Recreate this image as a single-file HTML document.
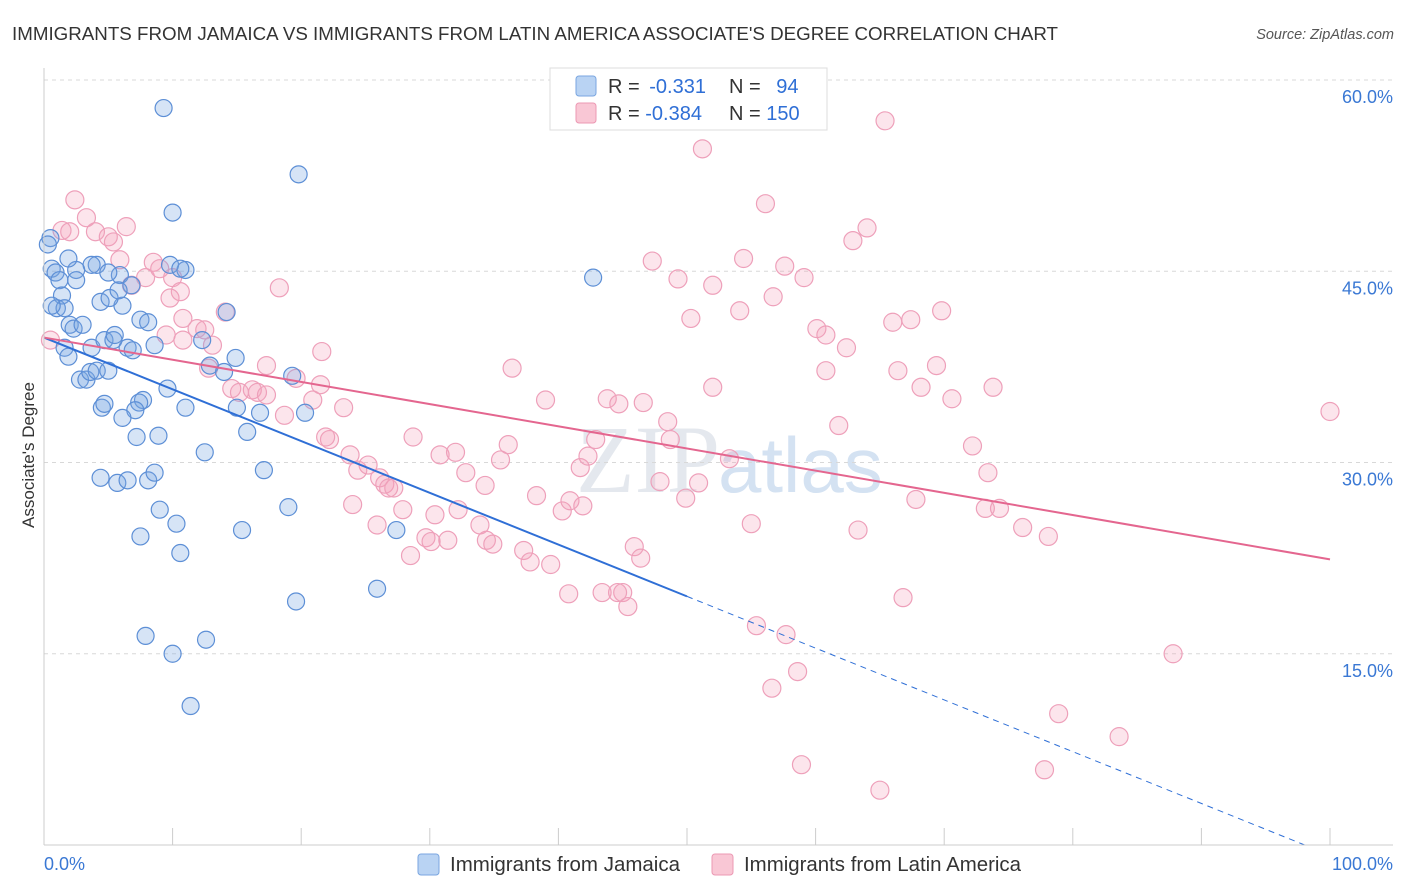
<!DOCTYPE html>
<html><head><meta charset="utf-8"><style>
body{margin:0;background:#fff;font-family:"Liberation Sans",sans-serif;}
#wrap{position:relative;width:1406px;height:892px;overflow:hidden;}
</style></head><body>
<div id="wrap">
<svg id="chart" width="1406" height="892" xmlns="http://www.w3.org/2000/svg">
<text x="12" y="40" font-size="18" fill="#333" textLength="1046" lengthAdjust="spacingAndGlyphs">IMMIGRANTS FROM JAMAICA VS IMMIGRANTS FROM LATIN AMERICA ASSOCIATE'S DEGREE CORRELATION CHART</text>
<text x="1394" y="39" font-size="14.5" fill="#555" font-style="italic" text-anchor="end">Source: ZipAtlas.com</text>
<text x="720" y="492" font-size="96" fill="#e4e8ee" text-anchor="end" font-family="Liberation Serif,serif">ZIP</text>
<text x="718" y="492" font-size="78" fill="#d4e2f2">atlas</text>
<g id="grid"></g><g id="pts"></g><g id="lines"></g><g id="axes"></g>
<text transform="translate(34,455) rotate(-90)" font-size="17" fill="#333" text-anchor="middle">Associate's Degree</text>
<g>
<rect x="550" y="68" width="277" height="62" fill="#fff" stroke="#ddd"/>
<rect x="576" y="76" width="20" height="20" rx="3" fill="#b9d3f3" stroke="#7aa6e0"/>
<rect x="576" y="103" width="20" height="20" rx="3" fill="#f9c7d5" stroke="#ec98b3"/>
<text x="608" y="93" font-size="20" fill="#333">R = <tspan fill="#2f6fd6" dx="4">-0.331</tspan></text>
<text x="729" y="93" font-size="20" fill="#333">N = <tspan fill="#2f6fd6" dx="10">94</tspan></text>
<text x="608" y="120" font-size="20" fill="#333">R = <tspan fill="#2f6fd6">-0.384</tspan></text>
<text x="729" y="120" font-size="20" fill="#333">N = <tspan fill="#2f6fd6">150</tspan></text>
</g>
<g>
<rect x="418" y="854" width="21" height="21" rx="3" fill="#b9d3f3" stroke="#7aa6e0"/>
<text x="450" y="871" font-size="20" fill="#333" textLength="230" lengthAdjust="spacingAndGlyphs">Immigrants from Jamaica</text>
<rect x="712" y="854" width="21" height="21" rx="3" fill="#f9c7d5" stroke="#ec98b3"/>
<text x="744" y="871" font-size="20" fill="#333" textLength="277" lengthAdjust="spacingAndGlyphs">Immigrants from Latin America</text>
</g>
</svg>
</div>
<script>
const blueX=[9.3,10.0,19.8,42.7,0.5,0.3,0.6,0.9,1.2,1.4,1.0,1.6,2.0,2.3,3.0,1.6,1.9,2.8,3.3,3.6,3.7,4.1,4.4,4.1,3.7,2.5,2.5,4.7,5.0,4.5,4.7,5.4,5.5,6.1,5.9,5.1,6.8,7.5,8.1,6.5,6.9,8.6,9.6,7.7,7.4,7.1,6.1,7.2,8.9,11.0,12.3,12.9,14.0,14.9,14.2,11.0,9.8,10.6,5.8,4.4,5.7,6.5,8.1,8.6,9.0,7.5,10.3,10.6,12.5,15.4,17.1,15.0,15.8,16.8,20.3,19.3,19.0,19.6,25.9,27.4,7.9,10.0,12.6,11.4,0.6,1.9,5.0];
const blueY=[57.8,49.6,52.6,44.5,47.6,47.1,45.2,44.9,44.3,43.1,42.1,42.1,40.8,40.5,40.8,39.0,38.3,36.5,36.5,37.1,39.0,37.2,42.6,45.5,45.5,45.1,44.3,39.6,37.2,34.3,34.6,39.6,40.0,42.3,44.7,42.9,43.9,41.2,41.0,39.0,38.8,39.2,35.8,34.9,34.7,34.1,33.5,32.0,32.1,34.3,39.6,37.6,37.1,38.2,41.8,45.1,45.5,45.2,43.5,28.8,28.4,28.6,28.6,29.2,26.3,24.2,25.2,22.9,30.8,24.7,29.4,34.3,32.4,33.9,33.9,36.8,26.5,19.1,20.1,24.7,16.4,15.0,16.1,10.9,42.3,46.0,44.9];
const pinkX=[2.4,3.3,1.4,2.0,4.0,6.4,5.0,5.4,0.5,5.9,7.9,6.8,8.5,9.0,10.0,10.6,9.8,10.8,11.9,12.5,9.5,10.8,13.1,14.1,12.8,14.6,15.2,16.2,16.6,17.3,18.3,17.3,18.7,19.6,20.9,21.5,23.3,21.6,22.2,21.9,23.8,24.4,25.2,26.1,26.5,27.2,26.8,27.9,28.7,30.8,32.0,32.8,32.2,30.4,29.7,30.1,31.4,24.0,25.9,28.5,34.3,35.5,36.1,33.9,34.4,34.9,37.3,37.8,39.4,38.3,40.3,40.9,39.0,36.4,41.9,41.7,42.3,42.9,43.8,44.7,46.6,47.9,48.5,48.7,49.9,50.9,53.3,47.3,49.3,50.3,52.0,52.0,54.1,54.4,56.1,57.6,56.7,59.1,60.1,60.8,60.8,62.4,62.9,64.0,61.8,65.4,51.2,66.0,67.4,66.4,68.2,69.4,69.8,70.6,73.8,72.2,73.4,73.2,74.3,76.1,78.1,67.8,63.3,55.0,45.9,46.4,45.0,43.4,44.6,45.4,40.8,55.4,57.7,56.6,58.6,66.8,58.9,65.0,78.9,77.8,83.6,87.8,100.0,52.8];
const pinkY=[50.6,49.2,48.2,48.1,48.1,48.5,47.7,47.3,39.6,45.9,44.5,43.9,45.7,45.2,44.5,43.4,42.9,41.3,40.5,40.4,40.0,39.6,39.2,41.8,37.4,35.8,35.5,35.7,35.5,37.6,43.7,35.3,33.7,36.6,34.9,36.1,34.3,38.7,31.8,32.0,30.6,29.4,29.8,28.8,28.3,28.0,28.0,26.3,32.0,30.6,30.8,29.2,26.3,25.9,24.1,23.8,23.9,26.7,25.1,22.7,28.2,30.2,31.4,25.1,23.9,23.6,23.1,22.2,22.0,27.4,26.2,27.0,34.9,37.4,26.6,29.6,30.5,31.8,35.0,34.6,34.7,28.5,33.2,31.8,27.2,28.4,30.3,45.8,44.4,41.3,43.9,35.9,41.9,46.0,50.3,45.4,43.0,44.5,40.5,40.0,37.2,39.0,47.4,48.4,32.9,56.8,54.6,41.0,41.2,37.2,35.9,37.6,41.9,35.0,35.9,31.3,29.2,26.4,26.4,24.9,24.2,27.1,24.7,25.2,23.4,22.5,19.8,19.8,19.8,18.7,19.7,17.2,16.5,12.3,13.6,19.4,6.3,4.3,10.3,5.9,8.5,15.0,34.0,59.7];
const yTicks=[15,30,45,60];
const yTickLabels=["15.0%","30.0%","45.0%","60.0%"];
const xTicks=[0,10,20,30,40,50,60,70,80,90,100];
const blueFit=[39.8,-0.406];
const pinkFit=[39.8,-0.174];
const blueSolidEnd=50;
const NS="http://www.w3.org/2000/svg";
const X=v=>44+v*12.86, Y=v=>845-v*12.75;
function mk(t,a,p){const e=document.createElementNS(NS,t);for(const k in a)e.setAttribute(k,a[k]);p.appendChild(e);return e;}
const grid=document.getElementById('grid'),axes=document.getElementById('axes'),pts=document.getElementById('pts'),lines=document.getElementById('lines');
yTicks.forEach((t,i)=>{
 const g=mk('line',{x1:44,x2:1393,y1:Y(t),y2:Y(t),stroke:'#d8d8d8','stroke-dasharray':'4,4'},grid);
 
 
 const l=mk('text',{x:1393,y:Y(t)+23,'font-size':18,fill:'#3a78d4','text-anchor':'end'},axes);
 l.textContent=yTickLabels[i];
 
 
});
const ax=mk('line',{x1:44,x2:1393,y1:845,y2:845,stroke:'#ccc'},axes);


const ay=mk('line',{x1:44,x2:44,y1:68,y2:845,stroke:'#ccc'},axes);


xTicks.forEach(t=>{
 const k=mk('line',{x1:X(t),x2:X(t),y1:828,y2:845,stroke:'#ccc'},axes);
 
 
});
const x0=mk('text',{x:44,y:870,'font-size':18,fill:'#3a78d4'},axes);x0.textContent='0.0%';


const x1=mk('text',{x:1393,y:870,'font-size':18,fill:'#3a78d4','text-anchor':'end'},axes);x1.textContent='100.0%';


pinkX.forEach((v,i)=>{
 const c=mk('circle',{cx:X(v),cy:Y(pinkY[i]),r:9,fill:'rgba(244,160,188,0.28)',stroke:'#eea0ba','stroke-width':1.2},pts);
 
 
});
blueX.forEach((v,i)=>{
 const c=mk('circle',{cx:X(v),cy:Y(blueY[i]),r:8.5,fill:'rgba(120,165,225,0.3)',stroke:'#5d8fd6','stroke-width':1.2},pts);
 
 
});
const bf=x=>blueFit[0]+blueFit[1]*x, pf=x=>pinkFit[0]+pinkFit[1]*x;
const xEnd=-blueFit[0]/blueFit[1];
const b1=mk('line',{x1:X(0),y1:Y(bf(0)),x2:X(blueSolidEnd),y2:Y(bf(blueSolidEnd)),stroke:'#2f6fd6','stroke-width':2},lines);


const b2=mk('line',{x1:X(blueSolidEnd),y1:Y(bf(blueSolidEnd)),x2:X(xEnd),y2:Y(bf(xEnd)),stroke:'#2f6fd6','stroke-width':1,'stroke-dasharray':'6,5'},lines);


const p1=mk('line',{x1:X(0),y1:Y(pf(0)),x2:X(100),y2:Y(pf(100)),stroke:'#e4668f','stroke-width':2},lines);


</script>
</body></html>
